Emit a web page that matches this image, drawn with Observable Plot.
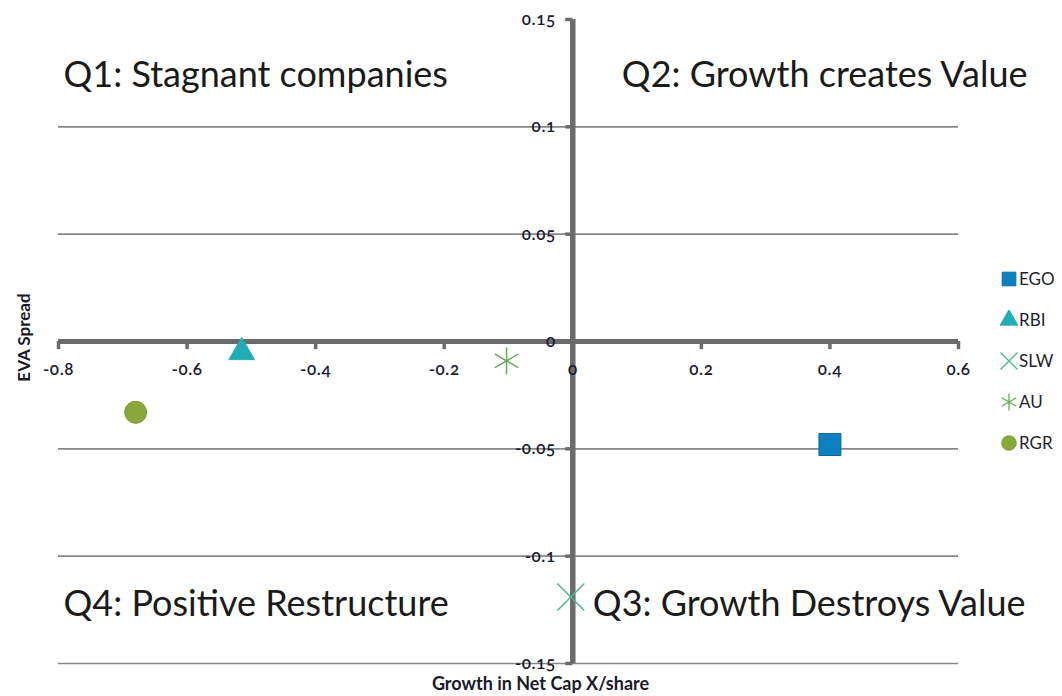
<!DOCTYPE html>
<html>
<head>
<meta charset="utf-8">
<script src="https://cdn.jsdelivr.net/npm/d3@7"></script>
<script src="https://cdn.jsdelivr.net/npm/@observablehq/plot@0.6"></script>
<style>
  html, body { margin: 0; padding: 0; background: #fff; }
  #wrap { position: relative; width: 1062px; height: 696px; }
  #legend { position: absolute; left: 1000px; top: 269px; font-family: Lato, "Open Sans", sans-serif; font-size: 17px; color: #1f1f2a; }
  #legend .item { height: 41px; display: flex; align-items: flex-start; }
  #legend svg { margin-right: 1px; }
  .ticklbl text { font-variant-numeric: oldstyle-nums; letter-spacing: 0.6px; }
</style>
</head>
<body>
<div id="wrap"></div>
<script>
// ---- data ----
const companies = ["EGO", "RBI", "SLW", "AU", "RGR"];
const growth = [0.40, -0.515, -0.003, -0.103, -0.68];
const evaSpread = [-0.048, -0.005, -0.119, -0.009, -0.033];
const symbols = ["square", "triangle", "times", "asterisk", "circle"];
const colors = ["#0e80bf", "#22adb6", "#4cb690", "#6aa85c", "#8aa83a"];
const xTicks = [-0.8, -0.6, -0.4, -0.2, 0, 0.2, 0.4, 0.6];
const xTickLabels = ["-0.8", "-0.6", "-0.4", "-0.2", "0", "0.2", "0.4", "0.6"];
const yTicks = [0.15, 0.1, 0.05, 0, -0.05, -0.1, -0.15];
const yTickLabels = ["0.15", "0.1", "0.05", "0", "-0.05", "-0.1", "-0.15"];
const quadrantLabels = ["Q1: Stagnant companies", "Q2: Growth creates Value", "Q3: Growth Destroys Value", "Q4: Positive Restructure"];
const xTitle = "Growth in Net Cap X/share";
const yTitle = "EVA Spread";

const points = companies.map((c, i) => ({company: c, x: growth[i], y: evaSpread[i], symbol: symbols[i], color: colors[i]}));
const filledSet = new Set(["square", "triangle", "circle"]);
const sizeOf = {square: 12.4, triangle: 9.5, times: 12.3, asterisk: 12.8, circle: 11};
const strokeOf = {square: "#0b6499", triangle: "#22adb6", circle: "#7b9634"};

const axisGray = "#6b6b6b";
const gridGray = "#878787";

const pointMarks = points.map(p => filledSet.has(p.symbol)
  ? Plot.dot([p], {x: "x", y: "y", symbol: () => p.symbol, r: sizeOf[p.symbol], fill: p.color, stroke: strokeOf[p.symbol], strokeWidth: 1})
  : Plot.dot([p], {x: "x", y: "y", symbol: () => p.symbol, r: sizeOf[p.symbol], stroke: p.color, strokeWidth: 1.5, fill: "none"}));

const qStyle = {fontSize: 36, fill: "#1a1a1a", fontFamily: "Lato, sans-serif", lineAnchor: "middle"};

const chart = Plot.plot({
  width: 1062,
  height: 696,
  marginLeft: 58,
  marginRight: 104,
  marginTop: 19,
  marginBottom: 33,
  x: {domain: [-0.8, 0.6], axis: null},
  y: {domain: [-0.15, 0.15], axis: null},
  symbol: {domain: symbols, range: symbols},
  style: {fontFamily: "Lato, sans-serif", background: "#fff", overflow: "visible"},
  marks: [
    // gridlines
    Plot.ruleY(yTicks.filter(d => d !== 0 && d !== 0.15), {x1: -0.8, x2: 0.6, stroke: gridGray, strokeWidth: 1.6}),
    // axes
    Plot.ruleY([0], {x1: -0.8, x2: 0.6, stroke: axisGray, strokeWidth: 5}),
    Plot.ruleX(xTicks, {y1: 0, y2: -0.0038, stroke: axisGray, strokeWidth: 3.5}),
    Plot.ruleX([0], {y1: -0.15, y2: 0.15, stroke: axisGray, strokeWidth: 5.5}),
    Plot.ruleY(yTicks, {x1: 0, x2: -0.011, stroke: axisGray, strokeWidth: 3.5}),
    // tick labels
    Plot.text(xTicks, {x: d => d, y: 0, text: (d, i) => xTickLabels[i], dy: 28, fontSize: 17, fontWeight: 600, fill: "#1a1a2e", className: "ticklbl"}),
    Plot.text(yTicks, {x: 0, y: d => d, text: (d, i) => yTickLabels[i], dx: -17, textAnchor: "end", fontSize: 17, fontWeight: 600, fill: "#1a1a2e", className: "ticklbl"}),
    // quadrant labels
    Plot.text([quadrantLabels[0]], {frameAnchor: "top-left", text: d => d, dx: 5, dy: 56, textAnchor: "start", ...qStyle}),
    Plot.text([quadrantLabels[1]], {frameAnchor: "top-right", text: d => d, dx: 69, dy: 56, textAnchor: "end", ...qStyle}),
    Plot.text([quadrantLabels[2]], {frameAnchor: "bottom-right", text: d => d, dx: 67, dy: -59, textAnchor: "end", ...qStyle}),
    Plot.text([quadrantLabels[3]], {frameAnchor: "bottom-left", text: d => d, dx: 5, dy: -59, textAnchor: "start", ...qStyle}),
    // axis titles
    Plot.text([yTitle], {frameAnchor: "left", text: d => d, dx: -34, dy: -4, rotate: -90, textAnchor: "middle", lineAnchor: "middle", fontWeight: "bold", fontSize: 17, fill: "#1a1a2a"}),
    Plot.text([xTitle], {frameAnchor: "bottom", text: d => d, dx: 32, dy: 21, textAnchor: "middle", lineAnchor: "middle", fontWeight: "bold", fontSize: 18, fill: "#1a1a2a"}),
    // points
    ...pointMarks
  ]
});

const wrap = document.getElementById("wrap");
wrap.appendChild(chart);

// legend
const legend = document.createElement("div");
legend.id = "legend";
const legSize = {square: 190, triangle: 140, times: 190, asterisk: 200, circle: 170};
const symMap = {square: d3.symbolSquare, triangle: d3.symbolTriangle, times: d3.symbolTimes, asterisk: d3.symbolAsterisk, circle: d3.symbolCircle};
points.forEach(p => {
  const item = document.createElement("div");
  item.className = "item";
  const svg = d3.create("svg").attr("width", 18).attr("height", 20);
  const path = svg.append("path")
    .attr("transform", "translate(9,10)")
    .attr("d", d3.symbol(symMap[p.symbol], legSize[p.symbol])());
  if (filledSet.has(p.symbol)) path.attr("fill", p.color).attr("stroke", strokeOf[p.symbol]).attr("stroke-width", 0.8);
  else path.attr("fill", "none").attr("stroke", p.color).attr("stroke-width", 1.3);
  item.appendChild(svg.node());
  const lab = document.createElement("span");
  lab.textContent = p.company;
  lab.style.lineHeight = "20px";
  item.appendChild(lab);
  legend.appendChild(item);
});
wrap.appendChild(legend);
</script>
</body>
</html>
